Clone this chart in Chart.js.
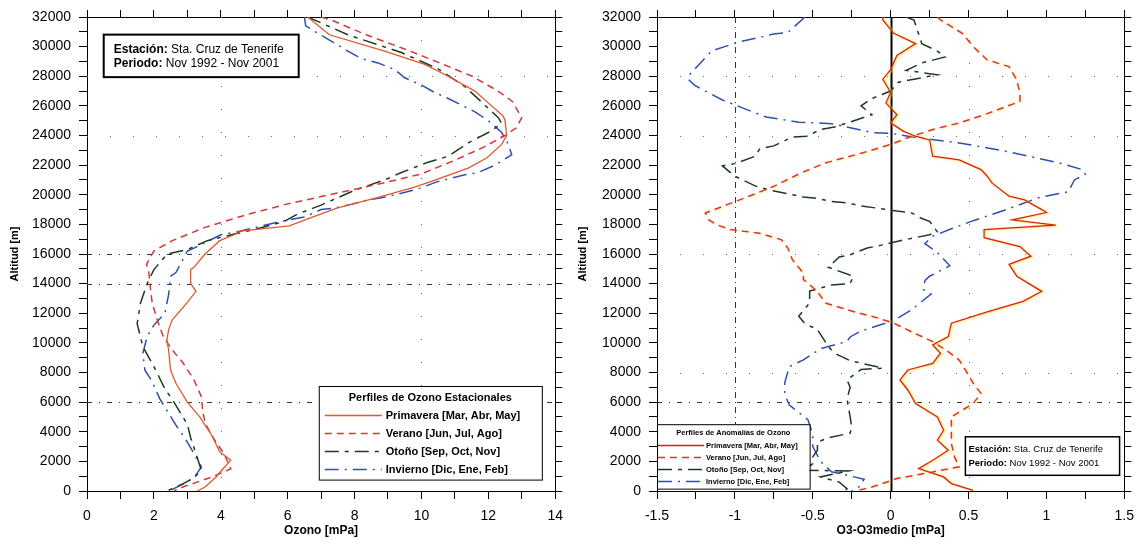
<!DOCTYPE html>
<html>
<head>
<meta charset="utf-8">
<script src="https://cdn.jsdelivr.net/npm/chart.js@4.4.1/dist/chart.umd.min.js"></script>
<style>
  html, body { margin: 0; padding: 0; background: #fff; }
  #wrap { position: relative; width: 1143px; height: 544px; }
  .panel { position: absolute; top: 0; height: 544px; }
</style>
</head>
<body>
<div id="wrap">
  <div class="panel" style="left:0;width:572px"><canvas id="perfiles"></canvas></div>
  <div class="panel" style="left:572px;width:571px"><canvas id="anomalias"></canvas></div>
</div>
<script>
// Season labels (shared by both panels)
const seasons = ['Primavera [Mar, Abr, May]', 'Verano [Jun, Jul, Ago]', 'Otoño [Sep, Oct, Nov]', 'Invierno [Dic, Ene, Feb]'];

// Left panel: ozone partial pressure [mPa] vs altitude [m]
const primavera = [[6.6,32000],[7.25,30800],[8.9,29700],[10.1,28800],[10.8,28000],[11.6,27000],[12.1,26000],[12.45,25300],[12.5,25000],[12.55,24000],[12.4,23400],[11.96,22500],[11.4,21800],[10.3,20900],[9.77,20500],[8.68,19800],[7.47,19100],[6.7,18450],[6.05,17900],[4.6,17550],[4.4,17300],[3.97,16900],[3.53,16000],[3.2,15100],[3.1,14950],[3.1,14000],[3.26,13480],[2.99,12700],[2.55,11560],[2.44,10880],[2.39,10200],[2.44,9530],[2.5,8170],[2.66,7270],[2.99,6030],[3.37,5000],[3.7,3880],[3.97,2640],[4.3,2080],[4.03,1400],[3.86,950],[3.53,270],[3.3,0]];
const verano = [[7.0,32000],[7.3,31800],[8.35,30800],[9.66,29700],[10.65,28800],[11.52,28000],[12.29,27000],[12.72,26300],[13.0,25200],[12.83,24500],[12.5,24000],[11.85,23200],[10.97,22300],[9.99,21400],[8.68,20700],[7.25,20000],[5.94,19350],[4.85,18700],[3.53,17800],[2.55,16900],[2.0,16200],[1.78,15300],[1.84,14950],[1.9,13600],[1.95,12700],[2.1,11560],[2.28,10430],[2.55,9530],[2.88,8620],[3.2,7500],[3.42,6370],[3.47,5240],[3.55,4500],[3.8,3500],[4.1,2500],[4.3,1500],[3.8,1000],[3.3,600],[2.9,300],[2.6,0]];
const otono = [[6.6,32000],[7.8,30800],[9.4,29600],[10.5,28500],[11.3,27300],[12.3,25200],[12.4,24800],[12.0,24200],[11.4,23500],[10.8,22600],[10.2,22200],[9.4,21500],[8.9,21000],[8.0,20300],[7.6,19900],[7.0,19300],[6.3,18700],[5.9,18200],[5.1,17700],[4.5,17400],[3.6,16900],[3.0,16300],[2.4,16000],[2.0,14950],[1.8,14000],[1.6,12700],[1.5,11300],[1.67,9750],[2.0,8400],[2.33,6900],[2.6,6000],[3.0,4500],[3.1,3600],[3.26,2500],[3.42,1400],[3.2,900],[2.88,500],[2.44,50]];
const invierno = [[6.5,32000],[6.54,31400],[7.8,29700],[8.2,29200],[8.7,28900],[9.2,28450],[9.5,27900],[10.0,27400],[10.4,26900],[10.8,26500],[11.2,26050],[11.6,25600],[12.0,25000],[12.4,24200],[12.6,23400],[12.7,22700],[12.2,22000],[11.7,21500],[11.3,21350],[10.5,20900],[9.9,20400],[9.3,20050],[8.8,19800],[8.3,19600],[7.9,19350],[7.4,19100],[7.0,19000],[6.5,18500],[5.9,18250],[5.6,18100],[4.5,17500],[4.0,17300],[3.2,16400],[3.0,16200],[2.66,14750],[2.5,14500],[2.44,13250],[2.33,12000],[2.0,11200],[1.8,10430],[1.67,9300],[1.73,8170],[1.95,7380],[2.17,6250],[2.44,5240],[2.66,4450],[3.0,3300],[3.2,2530],[3.42,1630],[3.2,900],[2.9,500],[2.5,50]];

// Right panel: O3 - O3medio [mPa] vs altitude [m]
const primaveraAnom = [[-0.05,32000],[-0.05,31800],[0.02,30900],[0.16,30200],[0.04,29400],[0.0,28450],[-0.05,27800],[0.0,26900],[-0.03,26200],[0.04,25400],[0.0,24850],[0.08,24300],[0.16,23950],[0.25,23700],[0.27,22600],[0.44,22350],[0.58,21700],[0.62,21250],[0.65,20800],[0.76,19900],[0.86,19650],[0.97,19000],[1.0,18800],[0.78,18300],[1.06,17950],[0.6,17650],[0.6,17100],[0.83,16500],[0.9,15850],[0.76,15300],[0.81,14500],[0.97,13480],[0.85,12800],[0.62,12100],[0.39,11330],[0.37,10430],[0.27,9860],[0.32,9300],[0.27,8620],[0.11,8170],[0.06,7500],[0.11,6820],[0.16,5910],[0.3,5000],[0.34,4100],[0.3,3430],[0.37,2750],[0.27,2080],[0.18,1510],[0.34,950],[0.39,500],[0.53,45]];
const veranoAnom = [[0.3,32000],[0.32,31800],[0.46,30900],[0.53,30000],[0.62,29100],[0.76,28650],[0.81,27750],[0.83,26850],[0.83,26300],[0.74,25950],[0.6,25400],[0.44,24850],[0.27,24400],[0.11,23850],[0.0,23400],[-0.19,22800],[-0.42,22150],[-0.58,21450],[-0.75,20570],[-0.91,19900],[-1.05,19330],[-1.19,18770],[-1.17,18320],[-1.12,17990],[-1.03,17650],[-0.84,17400],[-0.7,16960],[-0.66,16400],[-0.63,15600],[-0.56,14700],[-0.56,14270],[-0.47,13480],[-0.42,12690],[-0.24,12120],[-0.08,11670],[0.02,11330],[0.13,10770],[0.27,10090],[0.37,9410],[0.44,8840],[0.48,8170],[0.53,7270],[0.58,6590],[0.53,5910],[0.46,5460],[0.39,5010],[0.39,4110],[0.39,3210],[0.41,2300],[0.44,1630],[0.27,1290],[0.04,840],[-0.12,270],[-0.21,45]];
const otonoAnom = [[0.1,32000],[0.15,31800],[0.2,30200],[0.3,29700],[0.35,29300],[0.2,28900],[0.1,28400],[0.3,28100],[0.05,27600],[0.0,27000],[-0.12,26500],[-0.19,26000],[-0.12,25400],[-0.35,24600],[-0.45,24400],[-0.54,23950],[-0.63,23900],[-0.75,23300],[-0.84,23100],[-0.87,22600],[-1.0,22100],[-1.08,21950],[-1.0,21250],[-0.87,20600],[-0.77,20300],[-0.56,19850],[-0.47,19750],[-0.38,19550],[-0.28,19450],[-0.19,19250],[-0.09,19100],[0.04,18900],[0.13,18800],[0.2,18400],[0.25,18200],[0.3,17500],[0.25,17300],[0.11,17000],[0.06,16900],[-0.06,16600],[-0.15,16400],[-0.26,15950],[-0.33,15800],[-0.4,15100],[-0.24,14500],[-0.26,14000],[-0.38,13900],[-0.52,13500],[-0.52,12700],[-0.59,11800],[-0.55,11300],[-0.47,10900],[-0.4,9750],[-0.36,9300],[-0.26,8800],[-0.05,8300],[-0.19,8200],[-0.28,7500],[-0.26,7000],[-0.28,6200],[-0.26,5000],[-0.25,4300],[-0.26,3900],[-0.4,3600],[-0.47,3300],[-0.47,2750],[-0.5,2300],[-0.5,1850],[-0.55,1400],[-0.27,1350],[-0.45,950],[-0.33,600],[-0.28,150],[-0.3,0]];
const inviernoAnom = [[-0.55,32000],[-0.66,30950],[-0.75,30850],[-0.98,30300],[-1.15,29700],[-1.23,28800],[-1.3,28000],[-1.3,27800],[-1.26,27400],[-1.19,27000],[-1.08,26400],[-0.96,25900],[-0.8,25250],[-0.59,24900],[-0.38,24800],[-0.12,24200],[0.0,24150],[0.17,23850],[0.47,23450],[0.78,22850],[0.95,22450],[1.1,22100],[1.23,21700],[1.25,21400],[1.18,21000],[1.14,20200],[0.95,19800],[0.73,18950],[0.53,18250],[0.39,17700],[0.27,17200],[0.22,16700],[0.3,16100],[0.38,15200],[0.25,14500],[0.22,14200],[0.21,13600],[0.26,13300],[0.13,12200],[0.02,11500],[-0.19,10800],[-0.26,10400],[-0.28,10100],[-0.45,9600],[-0.56,8850],[-0.65,8400],[-0.68,7300],[-0.68,6500],[-0.65,5800],[-0.53,4800],[-0.5,3800],[-0.5,3000],[-0.45,2000],[-0.38,1300],[-0.17,800],[-0.2,300],[-0.25,0]];

const FONT = '"Liberation Sans", Arial, sans-serif';
Chart.defaults.font.family = FONT;
Chart.defaults.color = '#000';

const pts = arr => arr.map(([x, y]) => ({x: x, y: y}));

// thin grid / reference lines at chosen values
const refLines = {
  id: 'refLines',
  beforeDatasetsDraw(chart, args, o) {
    const {ctx, chartArea: a, scales} = chart;
    ctx.save();
    (o.x || []).forEach(l => {
      const px = Math.round(scales.x.getPixelForValue(l.v)) + 0.5;
      ctx.beginPath();
      ctx.setLineDash(l.dash || []);
      ctx.strokeStyle = l.color;
      ctx.lineWidth = l.width || 1;
      ctx.moveTo(px, a.top);
      ctx.lineTo(px, a.bottom);
      ctx.stroke();
    });
    (o.y || []).forEach(l => {
      const py = Math.round(scales.y.getPixelForValue(l.v)) + 0.5;
      ctx.beginPath();
      ctx.setLineDash(l.dash || []);
      ctx.strokeStyle = l.color;
      ctx.lineWidth = l.width || 1;
      ctx.moveTo(a.left, py);
      ctx.lineTo(a.right, py);
      ctx.stroke();
    });
    ctx.restore();
  }
};

// yellow fringe under the red lines of the right panel
const halo = {
  id: 'halo',
  beforeDatasetDraw(chart, args) {
    const h = chart.data.datasets[args.index].halo;
    if (!h) return;
    const ctx = chart.ctx;
    ctx.save();
    ctx.shadowColor = h;
    ctx.shadowBlur = 2;
    ctx.shadowOffsetX = 1.5;
    ctx.shadowOffsetY = 0.5;
  },
  afterDatasetDraw(chart, args) {
    if (chart.data.datasets[args.index].halo) chart.ctx.restore();
  }
};

// boxed legend inside the plot
const boxLegend = {
  id: 'boxLegend',
  afterDatasetsDraw(chart, args, o) {
    const {ctx, scales} = chart;
    const L = scales.x.getPixelForValue(o.x0), R = scales.x.getPixelForValue(o.x1);
    const T = scales.y.getPixelForValue(o.y0), B = scales.y.getPixelForValue(o.y1);
    ctx.save();
    ctx.fillStyle = '#fff';
    ctx.fillRect(L, T, R - L, B - T);
    ctx.strokeStyle = '#000';
    ctx.lineWidth = 1;
    ctx.strokeRect(L + 0.5, T + 0.5, R - L, B - T);
    ctx.font = 'bold ' + o.size + 'px ' + FONT;
    ctx.fillStyle = '#000';
    ctx.textBaseline = 'middle';
    ctx.textAlign = 'center';
    ctx.fillText(o.title, (L + R) / 2, T + o.first);
    ctx.textAlign = 'left';
    chart.data.datasets.forEach((d, i) => {
      const yy = Math.round(T + o.first + o.gap * (i + 1)) + 0.5;
      ctx.beginPath();
      ctx.setLineDash(d.borderDash || []);
      ctx.strokeStyle = d.borderColor;
      ctx.lineWidth = d.borderWidth;
      ctx.moveTo(L + o.s0, yy);
      ctx.lineTo(L + o.s0 + o.sLen, yy);
      ctx.stroke();
      ctx.setLineDash([]);
      ctx.fillText(d.label, L + o.tx, yy);
    });
    ctx.restore();
  }
};

// station / period box
const infoBox = {
  id: 'infoBox',
  afterDatasetsDraw(chart, args, o) {
    const {ctx, scales} = chart;
    const L = scales.x.getPixelForValue(o.x0), R = scales.x.getPixelForValue(o.x1);
    const T = scales.y.getPixelForValue(o.y0), B = scales.y.getPixelForValue(o.y1);
    ctx.save();
    ctx.fillStyle = '#fff';
    ctx.fillRect(L, T, R - L, B - T);
    ctx.strokeStyle = '#000';
    ctx.lineWidth = o.border;
    ctx.strokeRect(L, T, R - L, B - T);
    ctx.fillStyle = '#000';
    ctx.textBaseline = 'middle';
    o.lines.forEach((ln, i) => {
      const yy = T + o.first + o.gap * i;
      ctx.font = 'bold ' + o.size + 'px ' + FONT;
      ctx.fillText(ln[0], L + o.pad, yy);
      const w = ctx.measureText(ln[0]).width;
      ctx.font = o.size + 'px ' + FONT;
      ctx.fillText(ln[1], L + o.pad + w, yy);
    });
    ctx.restore();
  }
};

function scalesFor(c) {
  const black = '#000';
  const side = {drawOnChartArea: false, tickLength: 7, tickColor: black, color: black};
  return {
    x: {
      type: 'linear', position: 'bottom', min: c.xmin, max: c.xmax,
      afterFit: s => { s.height = 53; },
      ticks: {stepSize: c.xstep, autoSkip: false, maxRotation: 0, padding: 9, font: {size: 14}, callback: c.xlabel},
      grid: Object.assign({}, side, {tickLength: 8}),
      border: {color: black, width: 1},
      title: {display: true, text: c.xtitle, font: {size: 12, weight: 'bold'}, padding: {top: 0, bottom: 6}}
    },
    x2: {
      type: 'linear', position: 'top', min: c.xmin, max: c.xmax,
      afterFit: s => { s.height = 17; },
      ticks: {display: false, stepSize: c.xstep},
      grid: side,
      border: {color: black, width: 1}
    },
    y: {
      type: 'linear', position: 'left', min: 0, max: 32000,
      afterFit: s => { s.width = c.yw; },
      ticks: {stepSize: 1000, autoSkip: false, padding: 8, font: {size: 14},
        callback: v => (v % 2000 === 0 ? String(v) : '')},
      grid: Object.assign({}, side, {tickLength: 8}),
      border: {color: black, width: 1},
      title: {display: true, text: 'Altitud [m]', font: {size: 11, weight: 'bold'}, padding: {top: c.ytp, bottom: 0}}
    },
    y2: {
      type: 'linear', position: 'right', min: 0, max: 32000,
      afterFit: s => { s.width = c.y2w; },
      ticks: {display: false, stepSize: 1000},
      grid: side,
      border: {color: black, width: 1}
    }
  };
}

function datasetsFor(series, colors, halos) {
  const dashes = [[], [7, 5], [14, 6, 4, 6], [14, 6, 2, 6]];
  const widths = [1.3, 1.5, 1.5, 1.5];
  return series.map((s, i) => ({
    label: seasons[i],
    data: pts(s),
    showLine: true,
    pointRadius: 0,
    borderColor: colors[i],
    borderWidth: widths[i],
    borderDash: dashes[i],
    halo: halos ? halos[i] : null,
    fill: false,
    tension: 0
  }));
}

const dotted = '#666';
const dashDot = '#333';

new Chart(document.getElementById('perfiles'), {
  type: 'scatter',
  data: {datasets: datasetsFor([primavera, verano, otono, invierno], ['#e2572c', '#df3434', '#1d3a22', '#2f4fb0'])},
  options: {
    responsive: true, maintainAspectRatio: false, animation: false,
    layout: {padding: 0},
    scales: scalesFor({xmin: 0, xmax: 14, xstep: 1, xtitle: 'Ozono [mPa]', yw: 87, y2w: 10, ytp: 8,
      xlabel: v => (v % 2 === 0 ? String(v) : '')}),
    plugins: {
      legend: {display: false},
      tooltip: {enabled: false},
      refLines: {
        x: [{v: 4, color: dotted, dash: [1, 22]}, {v: 10, color: dotted, dash: [1, 22]}],
        y: [{v: 28000, color: dotted, dash: [1, 22]}, {v: 24000, color: dotted, dash: [1, 22]},
            {v: 16000, color: dashDot, dash: [5, 7, 1, 7]}, {v: 14000, color: dashDot, dash: [5, 7, 1, 7]},
            {v: 6000, color: dashDot, dash: [5, 7, 1, 7]}]
      },
      boxLegend: {x0: 6.93, x1: 13.6, y0: 7090, y1: 770, size: 11, title: 'Perfiles de Ozono Estacionales',
        first: 11.5, gap: 17.8, s0: 6, sLen: 57, tx: 67},
      infoBox: {x0: 0.5, x1: 6.33, y0: 30810, y1: 27940, size: 12, border: 2, pad: 10, first: 15, gap: 14.5,
        lines: [['Estación:', ' Sta. Cruz de Tenerife'], ['Periodo:', ' Nov 1992 - Nov 2001']]}
    }
  },
  plugins: [refLines, halo, boxLegend, infoBox]
});

new Chart(document.getElementById('anomalias'), {
  type: 'scatter',
  data: {datasets: datasetsFor([primaveraAnom, veranoAnom, otonoAnom, inviernoAnom], ['#d81e2a', '#e0303a', '#1d3a22', '#2f4fb0'],
    ['rgba(255,225,0,0.95)', 'rgba(255,225,0,0.6)', null, null])},
  options: {
    responsive: true, maintainAspectRatio: false, animation: false,
    layout: {padding: 0},
    scales: scalesFor({xmin: -1.5, xmax: 1.5, xstep: 0.25, xtitle: 'O3-O3medio [mPa]', yw: 85, y2w: 16, ytp: 4,
      xlabel: v => (Math.round(v * 4) % 2 === 0 ? String(Math.round(v * 100) / 100) : '')}),
    plugins: {
      legend: {display: false},
      tooltip: {enabled: false},
      refLines: {
        x: [{v: -1, color: dashDot, dash: [6, 4, 1, 4]}, {v: 0.5, color: dotted, dash: [1, 22]}, {v: 0, color: '#000', width: 2}],
        y: [{v: 28000, color: dotted, dash: [1, 22]}, {v: 24000, color: dotted, dash: [1, 22]},
            {v: 16000, color: dotted, dash: [1, 22]}, {v: 8000, color: dotted, dash: [1, 22]},
            {v: 6000, color: dashDot, dash: [5, 7, 1, 7]}]
      },
      boxLegend: {x0: -1.5, x1: -0.52, y0: 4510, y1: 160, size: 7.5, title: 'Perfiles de Anomalías de Ozono',
        first: 8.5, gap: 12, s0: 1, sLen: 46, tx: 49},
      infoBox: {x0: 0.48, x1: 1.47, y0: 3660, y1: 1060, size: 9.5, border: 1.5, pad: 3, first: 13, gap: 13.5,
        lines: [['Estación:', ' Sta. Cruz de Tenerife'], ['Periodo:', ' Nov 1992 - Nov 2001']]}
    }
  },
  plugins: [refLines, halo, boxLegend, infoBox]
});
</script>
</body>
</html>
